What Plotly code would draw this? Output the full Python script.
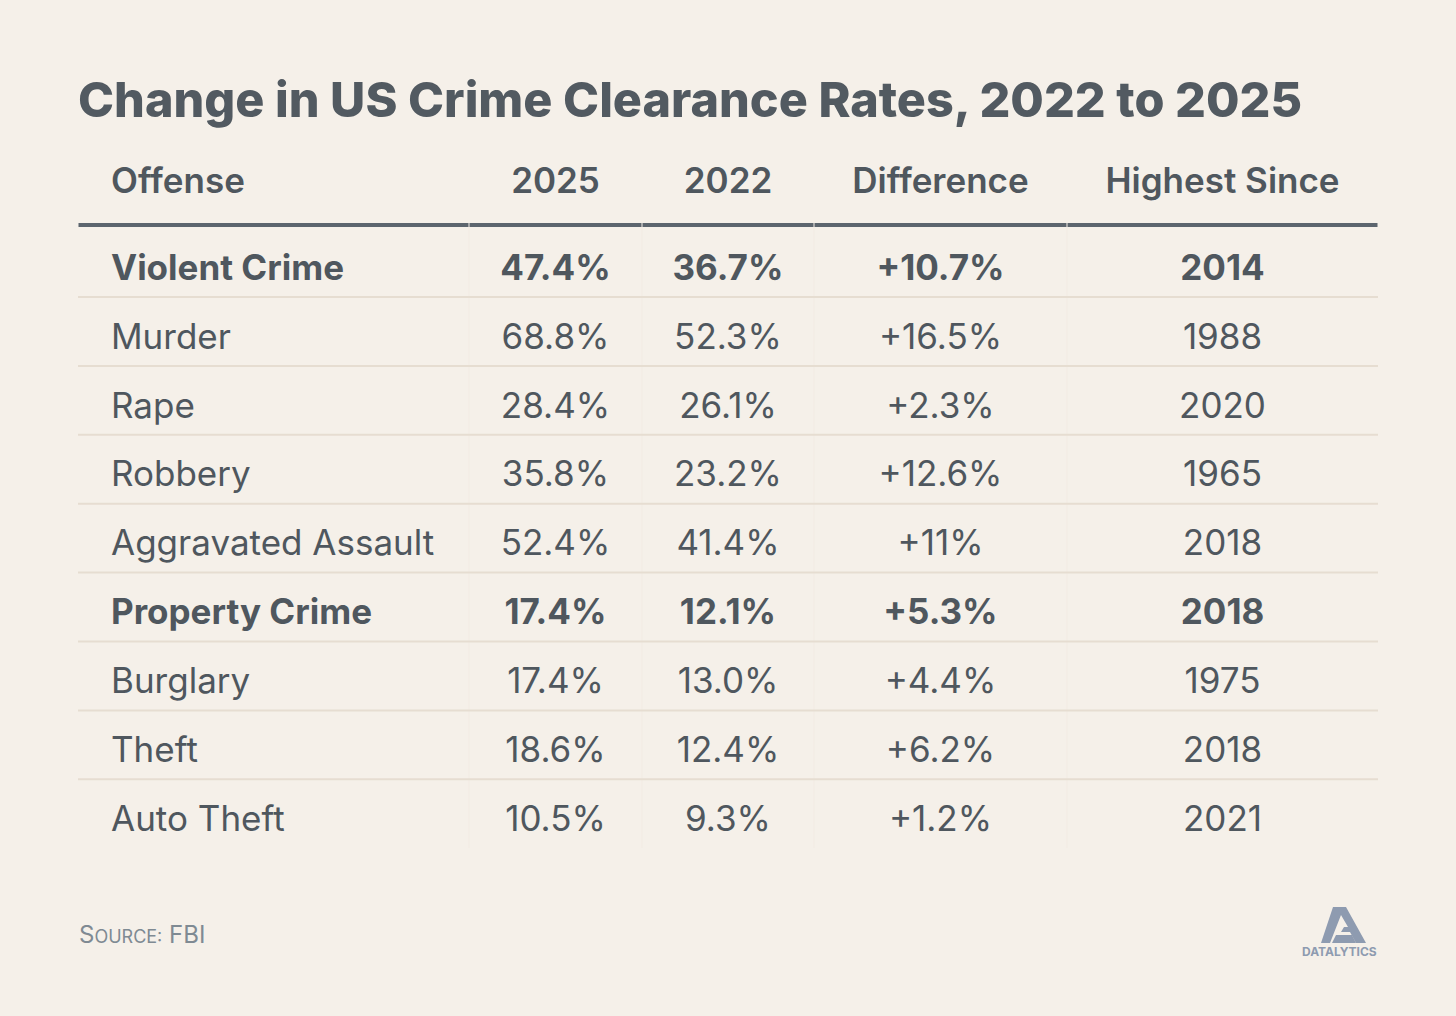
import plotly.graph_objects as go

# table data
headers = ["Offense", "2025", "2022", "Difference", "Highest Since"]
offenses = ["Violent Crime", "Murder", "Rape", "Robbery", "Aggravated Assault",
            "Property Crime", "Burglary", "Theft", "Auto Theft"]
rate_2025 = [47.4, 68.8, 28.4, 35.8, 52.4, 17.4, 17.4, 18.6, 10.5]
rate_2022 = [36.7, 52.3, 26.1, 23.2, 41.4, 12.1, 13.0, 12.4, 9.3]
difference = [10.7, 16.5, 2.3, 12.6, 11, 5.3, 4.4, 6.2, 1.2]
highest_since = [2014, 1988, 2020, 1965, 2018, 2018, 1975, 2018, 2021]
is_total = [True, False, False, False, False, True, False, False, False]

BG = "#f5f0e9"
INK = "#4f575e"
FONT = "Inter"

W, H = 1456, 1016
col_edges = [78, 469, 642, 814, 1067, 1378]
header_y = 184
header_line_y = 225
first_row_y = 271
row_step = 68.9
table_bottom = 848

columns = [
    offenses,
    [f"{v:.1f}%" for v in rate_2025],
    [f"{v:.1f}%" for v in rate_2022],
    [f"+{v:g}%" for v in difference],
    [str(v) for v in highest_since],
]

row_y = [first_row_y + i * row_step for i in range(len(offenses))]

fig = go.Figure()

for c, (name, values) in enumerate(zip(headers, columns)):
    if c == 0:
        x_pos, tpos = col_edges[0] + 33, "middle right"
    else:
        x_pos, tpos = (col_edges[c] + col_edges[c + 1]) / 2, "middle center"
    # header cell
    fig.add_trace(go.Scatter(
        x=[x_pos], y=[header_y], text=[name], mode="text", textposition=tpos,
        textfont=dict(family=FONT, size=35, color=INK, weight=600),
        hoverinfo="skip", showlegend=False,
    ))
    for bold in (True, False):
        idx = [i for i, t in enumerate(is_total) if t == bold]
        fig.add_trace(go.Scatter(
            x=[x_pos] * len(idx), y=[row_y[i] for i in idx],
            text=[values[i] for i in idx], mode="text", textposition=tpos,
            textfont=dict(family=FONT, size=35, color=INK, weight=700 if bold else 400),
            hoverinfo="skip", showlegend=False,
        ))

shapes = []
# faint column dividers
for xe in col_edges[1:-1]:
    shapes.append(dict(type="line", x0=xe, x1=xe, y0=header_line_y, y1=table_bottom,
                       line=dict(color="#f2ebe3", width=1), layer="below"))
# thick header rule, one segment per column
for c in range(len(headers)):
    shapes.append(dict(type="line", x0=col_edges[c] + 0.5, x1=col_edges[c + 1] - 0.5,
                       y0=header_line_y, y1=header_line_y,
                       line=dict(color="#5c656e", width=4)))
# row separators
for i in range(len(offenses) - 1):
    y = row_y[i] + 26
    shapes.append(dict(type="line", x0=col_edges[0], x1=col_edges[-1], y0=y, y1=y,
                       line=dict(color="#e6ddd1", width=2)))
# logo mark
shapes.append(dict(
    type="path",
    path="M 1321 943 L 1333 907 L 1346 907 L 1366 943 L 1356 943 L 1350 932 "
         "L 1341 932 L 1344 927 L 1348 927 L 1341 915 L 1330 943 Z",
    fillcolor="#8e9bb0", line=dict(width=0),
))
shapes.append(dict(
    type="path",
    path="M 1336 935 L 1352 935 L 1356 943 L 1332 943 Z",
    fillcolor="#8e9bb0", line=dict(width=0),
))

fig.update_layout(
    width=W, height=H,
    paper_bgcolor=BG, plot_bgcolor=BG,
    margin=dict(l=0, r=0, t=0, b=0),
    xaxis=dict(range=[0, W], visible=False, fixedrange=True),
    yaxis=dict(range=[H, 0], visible=False, fixedrange=True),
    shapes=shapes,
    title=dict(
        text="Change in US Crime Clearance Rates, 2022 to 2025",
        x=78 / W, xanchor="left", xref="paper",
        y=1 - 100 / H, yanchor="middle", yref="container",
        font=dict(family=FONT, size=48.5, color="#525a61", weight=800),
    ),
    annotations=[
        dict(text="S<span style='font-size:18px'>OURCE:</span> FBI",
             x=77, y=934, xref="x", yref="y",
             xanchor="left", yanchor="middle", showarrow=False,
             font=dict(family=FONT, size=24, color="#7f8a93")),
        dict(text="DATALYTICS", x=1339, y=951, xref="x", yref="y",
             xanchor="center", yanchor="middle", showarrow=False,
             font=dict(family=FONT, size=12, color="#8e9bb0", weight=700)),
    ],
)

fig.write_html(
    "out.html",
    config={"displayModeBar": False},
    post_script="document.body.style.margin='0';document.body.style.background='#f5f0e9';",
)
